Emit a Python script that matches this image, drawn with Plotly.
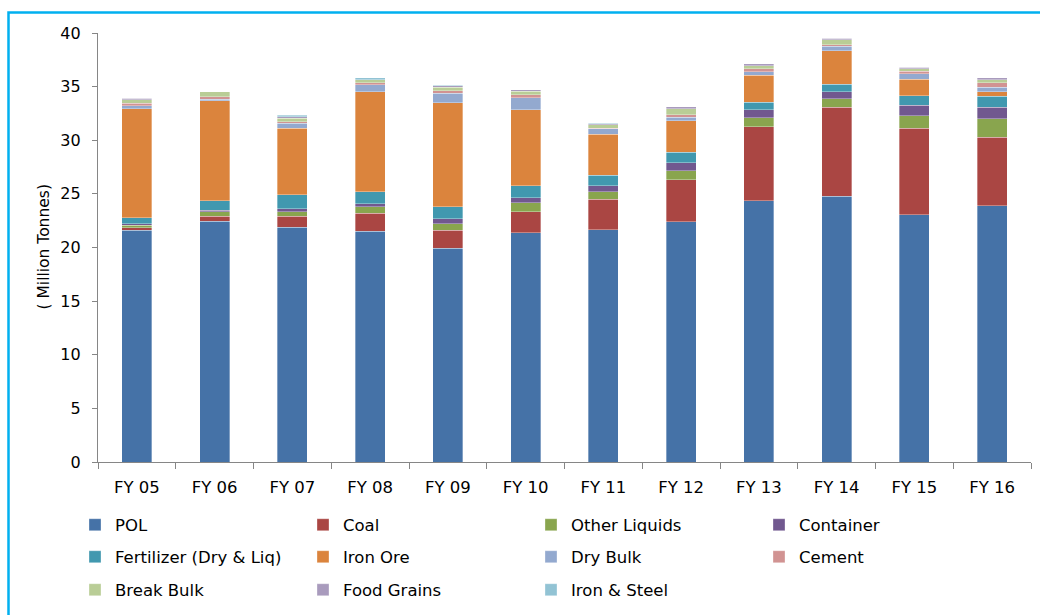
import plotly.graph_objects as go

years = ["FY 05", "FY 06", "FY 07", "FY 08", "FY 09", "FY 10",
         "FY 11", "FY 12", "FY 13", "FY 14", "FY 15", "FY 16"]

pol = [21.60, 22.45, 21.89, 21.52, 19.94, 21.36, 21.64, 22.39, 24.34, 24.78, 23.07, 23.91]
coal = [0.25, 0.47, 1.03, 1.67, 1.67, 1.96, 2.86, 3.91, 6.94, 8.31, 8.03, 6.39]
other_liquids = [0.22, 0.40, 0.43, 0.62, 0.62, 0.87, 0.68, 0.86, 0.84, 0.77, 1.18, 1.70]
container = [0.16, 0.15, 0.25, 0.25, 0.43, 0.43, 0.56, 0.72, 0.72, 0.68, 0.99, 1.09]
fertilizer = [0.56, 0.87, 1.30, 1.12, 1.12, 1.15, 1.02, 0.99, 0.71, 0.69, 0.87, 1.02]
iron_ore = [10.14, 9.33, 6.20, 9.36, 9.74, 7.07, 3.81, 2.97, 2.51, 3.13, 1.55, 0.43]
dry_bulk = [0.31, 0.16, 0.50, 0.65, 0.87, 1.14, 0.50, 0.32, 0.31, 0.40, 0.52, 0.41]
cement = [0.19, 0.22, 0.12, 0.19, 0.21, 0.28, 0.06, 0.21, 0.28, 0.15, 0.22, 0.43]
break_bulk = [0.37, 0.46, 0.31, 0.25, 0.35, 0.31, 0.31, 0.56, 0.31, 0.44, 0.22, 0.28]
food_grains = [0.12, 0.03, 0.16, 0.03, 0.15, 0.13, 0.12, 0.19, 0.16, 0.15, 0.15, 0.15]
iron_steel = [0.01, 0.00, 0.12, 0.18, 0.02, 0.02, 0.02, 0.02, 0.02, 0.02, 0.02, 0.02]

y_ticks = [0, 5, 10, 15, 20, 25, 30, 35, 40]

series = [
    ("POL", pol, "#4572A7", "legend"),
    ("Coal", coal, "#AA4643", "legend"),
    ("Other Liquids", other_liquids, "#89A54E", "legend"),
    ("Container", container, "#71588F", "legend"),
    ("Fertilizer (Dry & Liq)", fertilizer, "#4198AF", "legend2"),
    ("Iron Ore", iron_ore, "#DB843D", "legend2"),
    ("Dry Bulk", dry_bulk, "#93A9CF", "legend2"),
    ("Cement", cement, "#D19392", "legend2"),
    ("Break Bulk", break_bulk, "#B9CD96", "legend3"),
    ("Food Grains", food_grains, "#A99BBD", "legend3"),
    ("Iron & Steel", iron_steel, "#92C3D4", "legend3"),
]

FONT = "DejaVu Sans"
AXIS_COLOR = "#868686"

fig = go.Figure()
for name, vals, color, lg in series:
    fig.add_trace(go.Bar(
        x=years, y=vals, name=name, legend=lg,
        marker=dict(color=color, line=dict(color="rgba(255,255,255,0.55)", width=0.6)),
    ))

W, H = 1040, 615
ML, MR, MT, MB = 98, 9, 33, 152
pw = W - ML - MR
ph = H - MT - MB

def px_x(x):
    return (x - ML) / pw

def px_y(y):
    return (H - MB - y) / ph

legend_common = dict(
    orientation="h", xanchor="left", yanchor="middle",
    x=px_x(75), font=dict(family=FONT, size=16.5, color="#000000"),
    entrywidth=183, entrywidthmode="pixels", traceorder="normal",
    bgcolor="rgba(0,0,0,0)", itemclick=False, itemdoubleclick=False,
)

fig.update_layout(
    width=W, height=H,
    margin=dict(l=ML, r=MR, t=MT, b=MB, pad=0),
    paper_bgcolor="white", plot_bgcolor="white",
    barmode="stack", bargap=0.614,
    font=dict(family=FONT, size=16, color="#000000"),
    showlegend=True,
    legend=dict(legend_common, y=px_y(525)),
    legend2=dict(legend_common, y=px_y(557)),
    legend3=dict(legend_common, y=px_y(590)),
    xaxis=dict(
        type="category", showgrid=False, zeroline=False,
        showline=True, linecolor=AXIS_COLOR, linewidth=1.2,
        ticks="outside", tickson="boundaries", ticklen=6, tickcolor=AXIS_COLOR, tickwidth=1.2,
        tickfont=dict(family=FONT, size=16.5, color="#000000"),
        ticklabelstandoff=10,
    ),
    yaxis=dict(
        range=[0, 40], tickvals=y_ticks, showgrid=False, zeroline=False,
        showline=True, linecolor=AXIS_COLOR, linewidth=1.2,
        ticks="outside", ticklen=5, tickcolor=AXIS_COLOR, tickwidth=1.2,
        tickfont=dict(family=FONT, size=16, color="#000000"),
        ticklabelstandoff=8,
    ),
    annotations=[dict(
        text="( Million Tonnes)", textangle=-90, showarrow=False,
        xref="paper", yref="paper", x=px_x(43), y=0.5,
        xanchor="center", yanchor="middle",
        font=dict(family=FONT, size=15.5, color="#000000"),
    )],
    shapes=[dict(
        type="rect", xref="paper", yref="paper",
        x0=px_x(8.5), x1=px_x(1060), y0=px_y(640), y1=px_y(12.5),
        line=dict(color="#00B0F0", width=2.5), fillcolor="rgba(0,0,0,0)", layer="below",
    )],
)

fig.write_html("out.html")
